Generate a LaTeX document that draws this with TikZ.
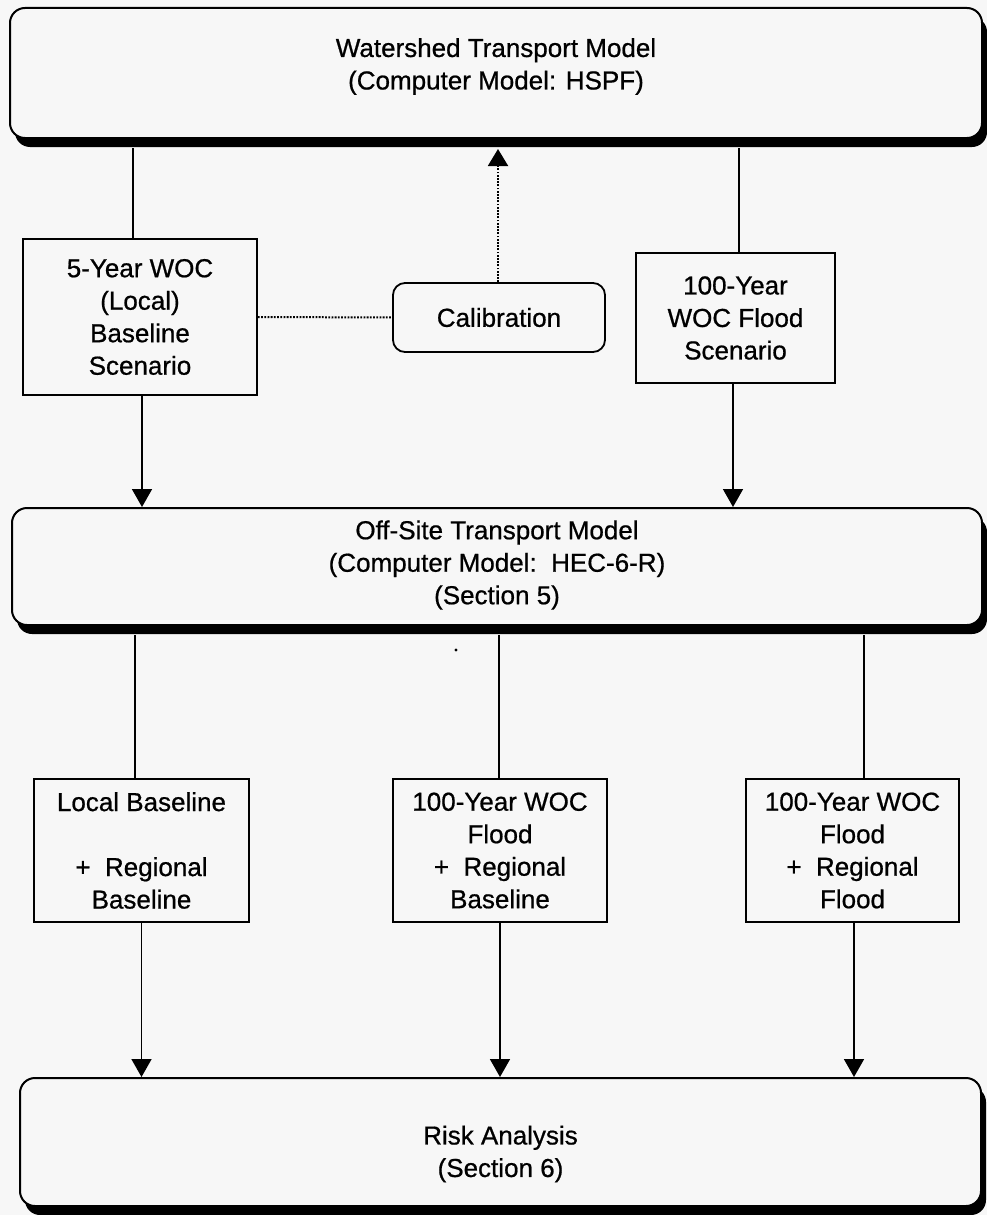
\documentclass[tikz,border=0pt]{standalone}
\usepackage{fontspec}
\setmainfont{Liberation Sans}[FakeBold=0.7]
\usetikzlibrary{arrows.meta,shadows}
\definecolor{bg}{RGB}{247,247,247}
\begin{document}
\begin{tikzpicture}[x=1pt,y=-1pt,
  txt/.style={align=center,font=\fontsize{26}{32.5}\selectfont,inner sep=0pt},
  bigbox/.style={draw,line width=2pt,rounded corners=15pt,fill=bg,inner sep=0pt,
     drop shadow={shadow xshift=5pt,shadow yshift=-9pt,fill=black,opacity=1}},
  sqbox/.style={draw,line width=1.8pt,fill=bg,inner sep=0pt,align=center,
     font=\fontsize{26}{32.5}\selectfont},
  calbox/.style={draw,line width=1.8pt,rounded corners=12pt,fill=bg,inner sep=0pt,
     font=\fontsize{26}{32.5}\selectfont},
  conn/.style={line width=1.7pt},
  arr/.style={line width=1.7pt,-{Triangle[width=20pt,length=18pt]}},
  dotline/.style={line width=2pt,dash pattern=on 1.8pt off 1.4pt}
]
\fill[bg] (0,0) rectangle (987,1215);
\useasboundingbox (0,0) rectangle (987,1215);

% big rounded boxes
\node[bigbox,minimum width=972pt,minimum height=130pt] (top) at (496,73) {};
\node[txt] (toptxt) at (496,66.5) {Watershed Transport Model\\(Computer Model: HSPF)};

\node[bigbox,minimum width=970pt,minimum height=117pt] (off) at (497,566.5) {};
\node[txt] (offtxt) at (497,565) {Off-Site Transport Model\\(Computer Model:\ \ HEC-6-R)\\(Section 5)};

\node[bigbox,minimum width=961pt,minimum height=128pt] (risk) at (500.5,1142) {};
\node[txt] (risktxt) at (500.5,1154) {Risk Analysis\\(Section 6)};

% middle row
\node[sqbox,minimum width=234pt,minimum height=156pt] (five) at (140,317)
  {5-Year WOC\\(Local)\\Baseline\\Scenario};
\node[calbox,minimum width=212pt,minimum height=69pt] (cal) at (499,317.5) {Calibration};
\node[sqbox,minimum width=199pt,minimum height=130pt] (hund) at (735.5,318)
  {100-Year\\WOC Flood\\Scenario};

% bottom row
\node[sqbox,minimum width=215pt,minimum height=143pt] (b1) at (141.5,850.5)
  {Local Baseline\\[32.5pt]+\ \ Regional\\Baseline};
\node[sqbox,minimum width=214pt,minimum height=143pt] (b2) at (500,850.5)
  {100-Year WOC\\Flood\\+\ \ Regional\\Baseline};
\node[sqbox,minimum width=213pt,minimum height=143pt] (b3) at (852.5,850.5)
  {100-Year WOC\\Flood\\+\ \ Regional\\Flood};

% connectors top -> middle
\draw[conn] ([xshift=-7pt]five.north) -- ([xshift=-7pt,yshift=-9pt]five.north |- top.south);
\draw[conn] ([xshift=3.5pt]hund.north) -- ([xshift=3.5pt,yshift=-9pt]hund.north |- top.south);

% calibration
\draw[dotline] (five.east) -- (cal.west);
\coordinate (calt) at ([xshift=-1pt,yshift=-10pt]cal.north |- top.south);
\draw[dotline,-{Triangle[width=20pt,length=17pt]}] ([xshift=-1pt]cal.north) -- (calt);

% middle -> off-site
\draw[arr] ([xshift=2pt]five.south) -- ([xshift=2pt]five.south |- off.north);
\draw[arr] ([xshift=-2.5pt]hund.south) -- ([xshift=-2.5pt]hund.south |- off.north);

% off-site -> bottom row
\draw[conn] ([xshift=-6.5pt]b1.north) -- ([xshift=-6.5pt,yshift=-9pt]b1.north |- off.south);
\draw[conn] ([xshift=-1pt]b2.north) -- ([xshift=-1pt,yshift=-9pt]b2.north |- off.south);
\draw[conn] ([xshift=11.5pt]b3.north) -- ([xshift=11.5pt,yshift=-9pt]b3.north |- off.south);

% bottom row -> risk
\draw[arr] (b1.south) -- (b1.south |- risk.north);
\draw[arr] (b2.south) -- (b2.south |- risk.north);
\draw[arr] ([xshift=1.5pt]b3.south) -- ([xshift=1.5pt]b3.south |- risk.north);

% scan speck
\fill (456,650) circle (1.6pt);
\end{tikzpicture}
\end{document}
